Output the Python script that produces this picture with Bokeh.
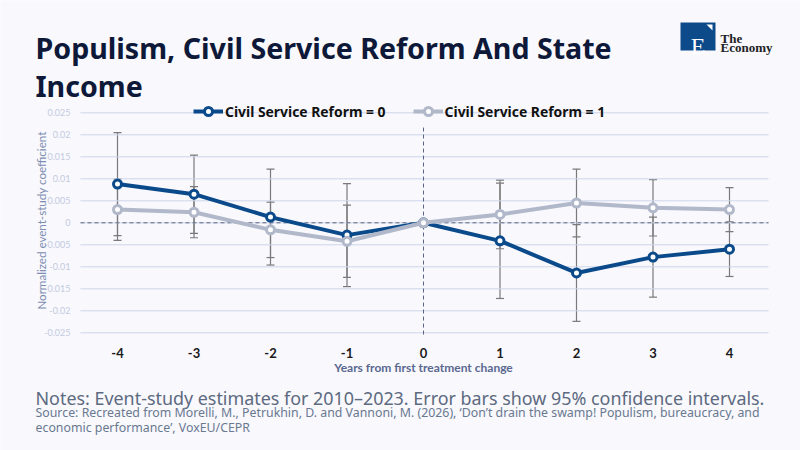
import numpy as np

from bokeh.plotting import figure
from bokeh.models import (ColumnDataSource, Whisker, TeeHead, Legend, LegendItem, Range1d)
from bokeh.core.properties import value
from bokeh.embed import file_html
from bokeh.resources import INLINE

#-------------- data ----------#
years = [-4, -3, -2, -1, 0, 1, 2, 3, 4]
csr0 = [0.0088, 0.0065, 0.0013, -0.0028, 0.0, -0.0041, -0.0114, -0.0078, -0.0060]
csr0_ci = [0.0117, 0.0089, 0.0109, 0.0117, 0.0, 0.0131, 0.0110, 0.0091, 0.0062]
csr1 = [0.0030, 0.0024, -0.0016, -0.0042, 0.0, 0.0019, 0.0045, 0.0034, 0.0030]
csr1_ci = [0.0070, 0.0058, 0.0063, 0.0082, 0.0, 0.0078, 0.0077, 0.0064, 0.0050]
y_ticks = [-0.025, -0.02, -0.015, -0.01, -0.005, 0, 0.005, 0.01, 0.015, 0.02, 0.025]
y_tick_labels = ["-0.025", "-0.02", "-0.015", "-0.01", "-0.005", "0",
                 "0.005", "0.01", "0.015", "0.02", "0.025"]
x_tick_labels = ["-4", "-3", "-2", "-1", "0", "1", "2", "3", "4"]

title_lines = ["Populism, Civil Service Reform And State", "Income"]
notes = "Notes: Event-study estimates for 2010\u20132023. Error bars show 95% confidence intervals."
source_lines = ["Source: Recreated from Morelli, M., Petrukhin, D. and Vannoni, M. (2026), \u2018Don\u2019t drain the swamp! Populism, bureaucracy, and",
                "economic performance\u2019, VoxEU/CEPR"]
#-------------------------------------------------------#

BG = "#f8f8fd"
BLUE = "#0b4a8a"
GREY = "#b0b8c9"
FONT = "Lato"
WIDE = "Noto Sans"
W, H = 800, 450

#------------- scales: plot area is x 80..768 px, 0 sits at y 222 px ------------#
PX_PER_YEAR = 76.5
PX_PER_UNIT = 4400.0
X0_PX, Y0_PX = 423.0, 222.3
x_start = -X0_PX / PX_PER_YEAR
y_top = Y0_PX / PX_PER_UNIT
x_left, x_right = -4.484, 4.51          # plot area edges in data units

p = figure(width=W, height=H, output_backend="svg", toolbar_location=None,
           x_range=Range1d(x_start, x_start + W / PX_PER_YEAR),
           y_range=Range1d(y_top - H / PX_PER_UNIT, y_top),
           x_axis_type=None, y_axis_type=None, min_border=0)
p.extra_x_ranges = {"px": Range1d(0, W)}
p.extra_y_ranges = {"px": Range1d(H, 0)}
p.background_fill_color = BG
p.border_fill_color = BG
p.outline_line_color = None
p.grid.visible = False


def text(x, y, txt, size, color, style="normal", font=FONT, align="left",
         baseline="alphabetic", xr="px", yr="px", angle=0):
    p.text(x=x, y=y, text=txt, text_font=value(font), text_font_size=value(size),
           text_color=color, text_font_style=style, text_align=align, text_baseline=baseline,
           angle=angle, x_range_name=xr, y_range_name=yr)


#------------- grid, reference lines, tick labels ------------#
p.segment(x0=[x_left] * len(y_ticks), x1=[x_right] * len(y_ticks), y0=y_ticks, y1=y_ticks,
          line_color="#cdd6e8", line_width=1)
p.segment(x0=[x_left], x1=[x_right], y0=[0], y1=[0], line_color="#5c6484", line_width=1, line_dash="4 3")
p.segment(x0=[0], y0=[-0.0254], x1=[0], y1=[0.0217], line_color="#5c6484", line_width=1, line_dash="4 3")

text([70] * len(y_ticks), y_ticks, y_tick_labels, "9px", "#c3cbdd", align="right",
     baseline="middle", yr="default")
text(years, [352] * len(years), x_tick_labels, "13px", "#1a1a1a", "bold", align="center",
     baseline="middle", xr="default")
text([41], [220], ["Normalized event-study coefficient"], "11.6px", "#7d8db0",
     align="center", baseline="middle", angle=np.pi / 2)
text([423], [367], ["Years from first treatment change"], "12px", "#5a6890", "bold",
     align="center", baseline="middle")

#------------- error bars (none at the reference year) ------------#
def whiskers(vals, ci):
    keep = [i for i in range(len(years)) if ci[i] > 0]
    src = ColumnDataSource(dict(x=[years[i] for i in keep],
                                lo=[vals[i] - ci[i] for i in keep],
                                hi=[vals[i] + ci[i] for i in keep]))
    p.add_layout(Whisker(base="x", lower="lo", upper="hi", source=src,
                         line_color="#7a7a7a", line_width=1.2,
                         upper_head=TeeHead(size=8, line_color="#7a7a7a", line_width=1.2),
                         lower_head=TeeHead(size=8, line_color="#7a7a7a", line_width=1.2)))


whiskers(csr0, csr0_ci)
whiskers(csr1, csr1_ci)

#------------- series ------------#
l0 = p.line(years, csr0, line_color=BLUE, line_width=4)
s0 = p.scatter(years, csr0, size=8, fill_color="white", line_color=BLUE, line_width=3)
l1 = p.line(years, csr1, line_color=GREY, line_width=4)
s1 = p.scatter(years, csr1, size=8, fill_color="white", line_color=GREY, line_width=3)

legend = Legend(items=[LegendItem(label="Civil Service Reform = 0", renderers=[l0, s0]),
                       LegendItem(label="Civil Service Reform = 1", renderers=[l1, s1])],
                orientation="horizontal", location=(193, H - 121))
legend.background_fill_alpha = 0
legend.border_line_color = None
legend.padding = 0
legend.margin = 0
legend.spacing = 27
legend.glyph_width = 30
legend.label_standoff = 2
legend.label_text_font = WIDE
legend.label_text_font_style = "bold"
legend.label_text_font_size = "13.9px"
legend.label_text_color = "#111111"
p.add_layout(legend)

#------------- title, logo, notes ------------#
text([35], [47], [title_lines[0]], "28.6px", "#0e1838", "bold", WIDE)
text([35], [85], [title_lines[1]], "28.6px", "#0e1838", "bold", WIDE)
p.quad(left=[680], right=[715], top=[22], bottom=[50], fill_color="#0d4a8a", line_color=None,
       x_range_name="px", y_range_name="px")
p.patch([706, 712, 712], [24, 24, 30], fill_color="white", line_color=None,
        x_range_name="px", y_range_name="px")
text([697.5], [45], ["E"], "24px", "white", font="Liberation Serif", align="center")
text([720], [38], ["The"], "13px", "#222222", "bold", "Liberation Serif")
text([720], [47], ["Economy"], "13px", "#222222", "bold", "Liberation Serif")

text([35], [397], [notes], "17.9px", "#5d6a80", font=WIDE)
text([35], [412], [source_lines[0]], "12.35px", "#6a7890", font=WIDE)
text([35], [427], [source_lines[1]], "12.35px", "#6a7890", font=WIDE)

open("out.html", "w").write(file_html(p, INLINE))
